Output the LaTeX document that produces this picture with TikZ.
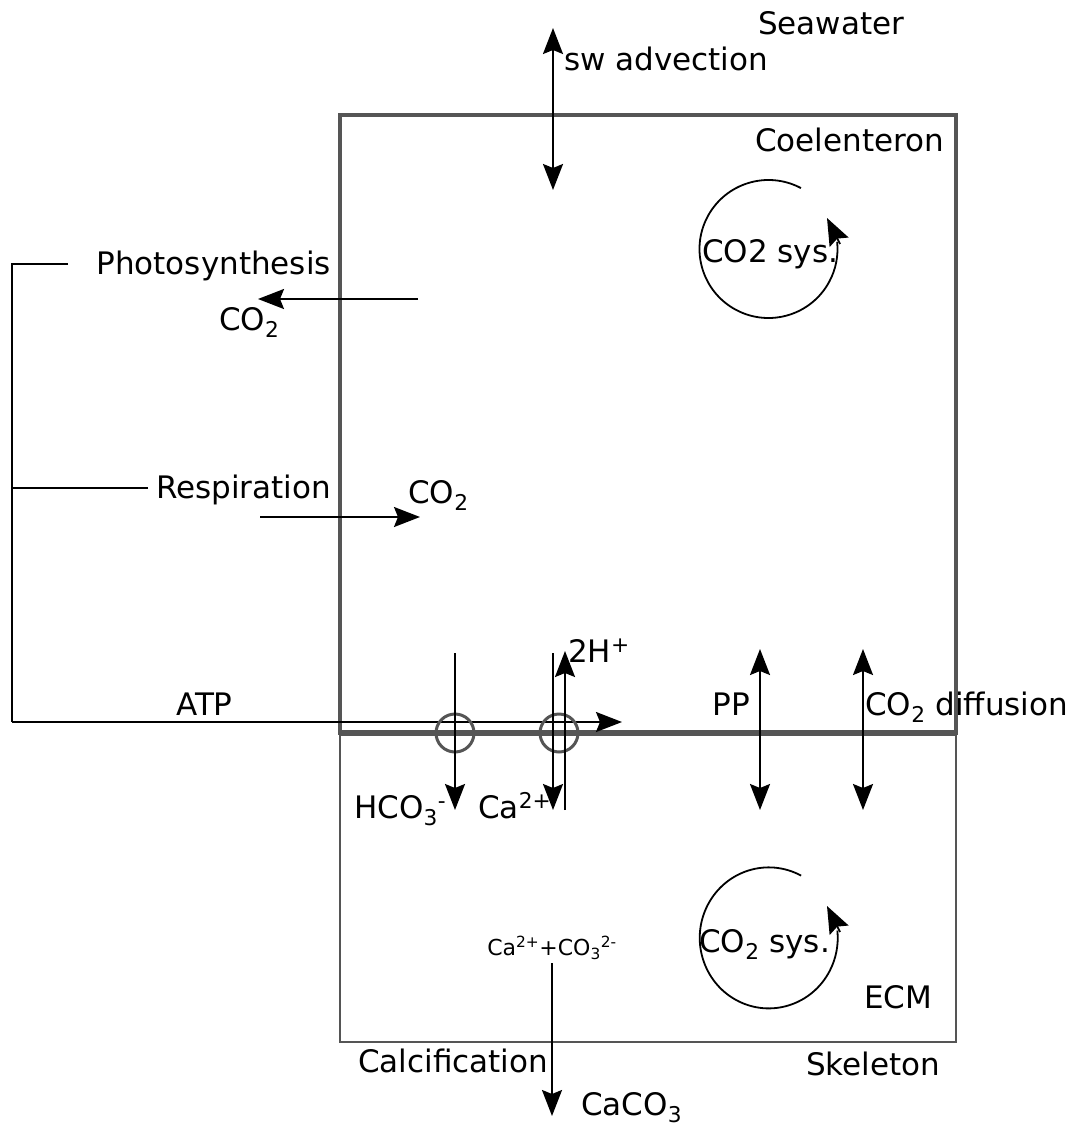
\documentclass[tikz,border=0pt]{standalone}
\usepackage{fontspec}
\setmainfont{DejaVu Sans}
\usetikzlibrary{arrows.meta,calc}
\definecolor{boxgrey}{HTML}{555555}
\begin{document}
\begin{tikzpicture}[x=1pt,y=-1pt,
  lbl/.style={font=\fontsize{31}{36}\selectfont, inner sep=0pt, anchor=base west},
  lble/.style={lbl, anchor=base east},
  sml/.style={font=\fontsize{22}{26}\selectfont, inner sep=0pt, anchor=base},
  tip/.tip={Stealth[length=26pt,width=20pt,inset=4pt]},
  arr/.style={line width=2pt, -tip},
  darr/.style={line width=2pt, tip-tip},
  wire/.style={line width=1.8pt},
  boxline/.style={draw=boxgrey, line width=3.5pt},
  ecmline/.style={draw=boxgrey, line width=2.5pt},
  membrane/.style={draw=boxgrey, line width=6pt},
  pump/.style={draw=boxgrey, line width=3pt, circle, minimum size=38pt, inner sep=0pt},
  cyc/.style={line width=1.8pt},
  cychead/.style={line width=1.8pt, -{Stealth[length=27pt,width=21pt,inset=4pt]}}
]
\useasboundingbox (0,0) rectangle (1073,1126);

% compartments
\draw[boxline] (340,115) rectangle (956,733);
\draw[ecmline] (340,733) rectangle (956,1042);
\coordinate (memL) at (340,733);
\coordinate (memR) at (956,733);
\draw[membrane] (memL) -- (memR);

% labels
\node[lbl] (sea) at (758,35) {Seawater};
\node[lbl] (swadv) at (564,71) {sw advection};
\node[lbl] (coel) at (755,152) {Coelenteron};
\node[lble] (photo) at (331,274) {Photosynthesis};
\node[lbl] (co2p) at (219,330) {CO\textsubscript{2}};
\node[lble] (resp) at (331,498) {Respiration};
\node[lbl] (co2r) at (408,503) {CO\textsubscript{2}};
\node[lbl] (atp) at (176,715) {ATP};
\node[lbl] (hplus) at (568,662) {2H\textsuperscript{+}};
\node[lble] (pp) at (750,715) {PP};
\node[lbl] (co2d) at (865,715) {CO\textsubscript{2} diffusion};
\node[lbl] (hco3) at (354,818) {HCO\textsubscript{3}\textsuperscript{-}};
\node[lbl] (ca) at (478,818) {Ca\textsuperscript{2+}};
\node[sml] (react) at (552,955) {Ca\textsuperscript{2+}+CO\textsubscript{3}\textsuperscript{2-}};
\node[lbl] (sysu) at (702,262) {CO2 sys.};
\node[lbl] (sysl) at (699,952) {CO\textsubscript{2} sys.};
\node[lbl] (ecm) at (864,1008) {ECM};
\node[lbl] (calc) at (358,1072) {Calcification};
\node[lbl] (skel) at (806,1075) {Skeleton};
\node[lbl] (caco3) at (581,1115) {CaCO\textsubscript{3}};

% seawater advection
\coordinate (swT) at (553,28);
\coordinate (swB) at (553,190);
\draw[darr] (swT) -- (swB);

% photosynthesis / respiration
\coordinate (phA) at (418,299);
\coordinate (phB) at (258,299);
\draw[arr] (phA) -- (phB);
\coordinate (reA) at (260,517);
\coordinate (reB) at (420,517);
\draw[arr] (reA) -- (reB);

% bracket to ATP
\coordinate (brT) at (68,264);
\coordinate (brTL) at (12,264);
\coordinate (brM) at (148,488);
\coordinate (brML) at (12,488);
\coordinate (brB) at (12,722);
\coordinate (atpE) at (622,722);
\draw[wire] (brT) -- (brTL) -- (brB);
\draw[wire] (brM) -- (brML);
\draw[arr] (brB) -- (atpE);

% pumps
\node[pump] (p1) at (455,733) {};
\node[pump] (p2) at (559,733) {};

% HCO3 and Ca / H exchange
\coordinate (hcT) at (455,653);
\coordinate (hcB) at (455,810);
\draw[arr] (hcT) -- (hcB);
\coordinate (caT) at (553,653);
\coordinate (caB) at (553,810);
\draw[arr] (caT) -- (caB);
\coordinate (hB) at (565,810);
\coordinate (hT) at (565,651);
\draw[arr] (hB) -- (hT);

% PP and CO2 diffusion
\coordinate (ppT) at (760,649);
\coordinate (ppB) at (760,810);
\draw[darr] (ppT) -- (ppB);
\coordinate (cdT) at (863,649);
\coordinate (cdB) at (863,810);
\draw[darr] (cdT) -- (cdB);

% calcification
\coordinate (clT) at (552,963);
\coordinate (clB) at (552,1116);
\draw[arr] (clT) -- (clB);

% CO2 system cycles
\coordinate (cu) at (768.5,249);
\draw[cyc] ($(cu)+(-62:69)$) arc[start angle=-62, end angle=-366, radius=69];
\coordinate (cuB) at (840,244);
\coordinate (cuT) at (827,218);
\draw[cychead] (cuB) -- (cuT);
\coordinate (cl) at (768.5,937);
\draw[cyc] ($(cl)+(-62:69.5)$) arc[start angle=-62, end angle=-366, x radius=69, y radius=70.5];
\coordinate (clB2) at (840,932);
\coordinate (clT2) at (827,906);
\draw[cychead] (clB2) -- (clT2);
\end{tikzpicture}
\end{document}
